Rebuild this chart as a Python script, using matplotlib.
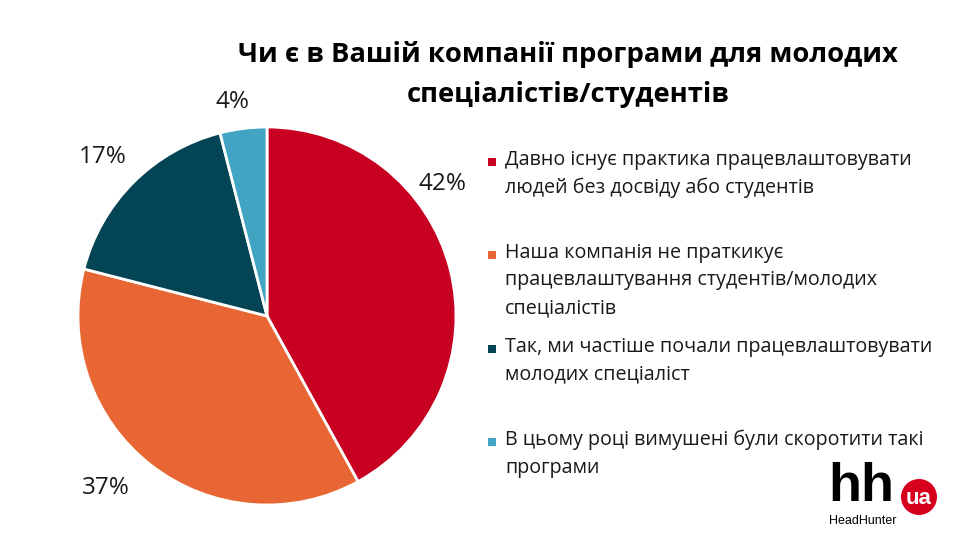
import matplotlib
matplotlib.use("Agg")
import matplotlib.pyplot as plt
from matplotlib.patches import Rectangle, Ellipse

plt.rcParams['font.family'] = ['Open Sans', 'DejaVu Sans']

# ---- data ----
categories = [
    "Давно існує практика працевлаштовувати\nлюдей без досвіду або студентів",
    "Наша компанія не праткикує\nпрацевлаштування студентів/молодих\nспеціалістів",
    "Так, ми частіше почали працевлаштовувати\nмолодих спеціаліст",
    "В цьому році вимушені були скоротити такі\nпрограми",
]
values = [42, 37, 17, 4]
value_labels = ["42%", "37%", "17%", "4%"]
title = "Чи є в Вашій компанії програми для молодих\nспеціалістів/студентів"

# ---- style ----
colors = ["#C80022", "#E86633", "#034455", "#41A4C3"]
label_pos = [(0.93, 0.70), (-0.85, -0.91), (-0.87, 0.84), (-0.18, 1.13)]
legend_base = [165, 258, 352, 445]  # pixel baseline of first line of each entry
legend_step = 27.5
title_base = [62, 102]

W, H = 976, 538
fig = plt.figure(figsize=(W / 100, H / 100), dpi=100)
fig.patch.set_facecolor("white")

cx, cy, r = 267, 316, 189
ax = fig.add_axes([(cx - r) / W, (H - cy - r) / H, 2 * r / W, 2 * r / H])
ax.pie(values, colors=colors, startangle=90, counterclock=False,
       wedgeprops=dict(edgecolor="white", linewidth=2), radius=1)
ax.set_xlim(-1, 1)
ax.set_ylim(-1, 1)
ax.set_aspect("equal")
ax.axis("off")
for (x, y), t in zip(label_pos, value_labels):
    ax.text(x, y, t, ha="center", va="center", fontsize=17.5, color="#1a1a1a")

# title
for line, yb in zip(title.split("\n"), title_base):
    fig.text(568 / W, 1 - yb / H, line, ha="center", va="baseline",
             fontsize=19.7, fontweight="bold", color="black")

# legend
for lbl, col, yb in zip(categories, colors, legend_base):
    fig.patches.append(Rectangle((488 / W, 1 - (yb + 1) / H), 8 / W, 8 / H,
                                 transform=fig.transFigure, facecolor=col,
                                 edgecolor="none"))
    for i, line in enumerate(lbl.split("\n")):
        fig.text(505 / W, 1 - (yb + i * legend_step) / H, line, ha="left",
                 va="baseline", fontsize=14.2, color="#1a1a1a")

# logo
fig.text(828 / W, 1 - 501 / H, "hh", ha="left", va="baseline",
         fontsize=39, fontweight="bold", family="Liberation Sans", color="black")
fig.patches.append(Ellipse((919 / W, 1 - 497 / H), 36 / W, 36 / H,
                           transform=fig.transFigure,
                           facecolor="#D6001C", edgecolor="none"))
fig.text(919 / W, 1 - 499 / H, "ua", ha="center", va="center", fontsize=16,
         fontweight="bold", family="Liberation Sans", color="white")
fig.text(829 / W, 1 - 521 / H, "HeadHunter", ha="left", va="center",
         fontsize=9, family="Liberation Sans", color="black")

fig.savefig("out.png", dpi=100, facecolor="white")
